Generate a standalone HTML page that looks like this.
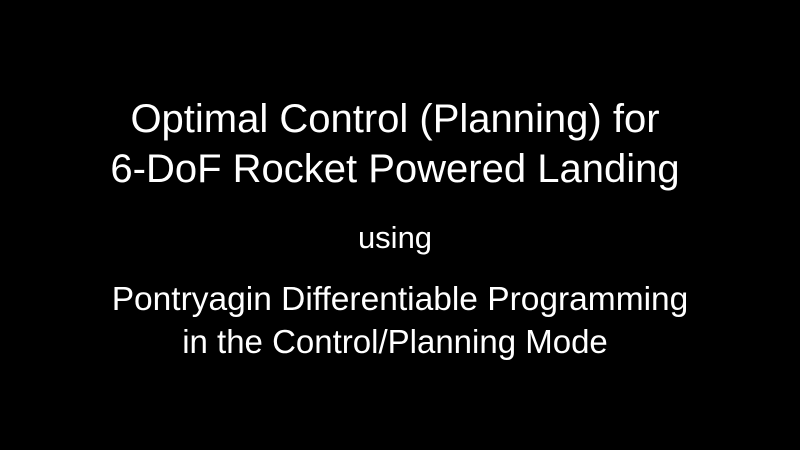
<!DOCTYPE html>
<html><head><style>
html,body{margin:0;padding:0;background:#000;width:800px;height:450px;overflow:hidden}
div{position:absolute;left:-5px;width:800px;text-align:center;color:#fff;font-family:"Liberation Sans",Arial,sans-serif;white-space:nowrap}
</style></head><body>
<div style="top:95px;font-size:40px;line-height:48px">Optimal Control (Planning) for</div>
<div style="top:145px;font-size:40px;line-height:48px">6-DoF Rocket Powered Landing</div>
<div style="top:219px;font-size:31px;line-height:38px">using</div>
<div style="top:280px;font-size:33.5px;line-height:40px;left:0">Pontryagin Differentiable Programming</div>
<div style="top:322px;font-size:33px;line-height:40px">in the Control/Planning Mode</div>
</body></html>
